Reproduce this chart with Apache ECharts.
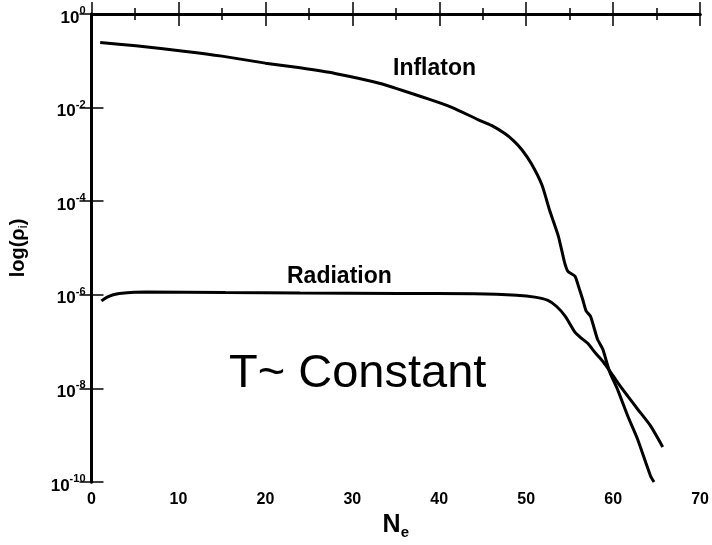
<!DOCTYPE html>
<html>
<head>
<meta charset="utf-8">
<script src="https://cdn.jsdelivr.net/npm/echarts@6/dist/echarts.min.js"></script>
<style>html,body{margin:0;padding:0;background:#fff}#c{width:712px;height:545px}</style>
</head>
<body>
<div id="c"></div>
<script>
// N_e values and log10(rho) exponents
const inflatonN = [1.0, 5.1, 10.85, 15, 20, 24, 28, 33.1, 38.8, 41.5, 44.5, 46.0, 47.5, 48.5, 49.5, 50.6, 51.8, 52.7, 53.7, 54.4, 54.8, 55.6, 56.0, 56.5, 56.9, 57.4, 58.2, 58.8, 59.6, 60.5, 61.7, 62.8, 64.3, 64.7];
const inflatonLog = [-0.61, -0.68, -0.80, -0.90, -1.05, -1.15, -1.27, -1.48, -1.82, -2.0, -2.26, -2.38, -2.55, -2.7, -2.9, -3.2, -3.65, -4.2, -4.75, -5.3, -5.5, -5.6, -5.81, -6.1, -6.35, -6.46, -6.95, -7.16, -7.65, -8.02, -8.6, -9.08, -9.87, -10.0];
const radiationN = [1.14, 1.7, 2.5, 3.2, 6.3, 15.4, 24, 35.4, 44, 48.9, 51, 52.5, 53.5, 54.5, 55.6, 56.3, 57.1, 57.9, 58.8, 59.7, 60.5, 61.7, 62.8, 64.3, 65.7];
const radiationLog = [-6.13, -6.06, -6.0, -5.97, -5.94, -5.95, -5.96, -5.97, -5.98, -6.01, -6.05, -6.12, -6.25, -6.46, -6.8, -6.92, -7.04, -7.23, -7.42, -7.65, -7.87, -8.17, -8.44, -8.8, -9.25];
const xTicks = [0, 10, 20, 30, 40, 50, 60, 70];
const yTickExps = [-10, -8, -6, -4, -2, 0];
const labels = {inflaton: 'Inflaton', radiation: 'Radiation', note: 'T~ Constant'};

const FONT = '"Liberation Sans", Arial, Helvetica, sans-serif';
const zip = (a, b) => a.map((v, i) => [v, b[i]]);

const chart = echarts.init(document.getElementById('c'), null, {renderer: 'canvas'});
const axisCommonX = {
  type: 'value', min: xTicks[0], max: xTicks[xTicks.length - 1], interval: 10,
  axisLine: {show: true, lineStyle: {color: '#000', width: 3}},
  axisTick: {show: true, inside: true, length: 12, lineStyle: {color: '#000', width: 1.5}},
  minorTick: {show: true, splitNumber: 2, length: 6, lineStyle: {color: '#000', width: 1.5}},
  splitLine: {show: false}
};
const axisCommonY = {
  type: 'value', min: yTickExps[0], max: yTickExps[yTickExps.length - 1], interval: 2,
  axisLine: {show: true, lineStyle: {color: '#000', width: 3}},
  axisTick: {show: true, inside: true, length: 12, lineStyle: {color: '#000', width: 1.5}},
  splitLine: {show: false}
};
chart.setOption({
  animation: false,
  backgroundColor: '#fff',
  grid: {left: 90, right: 9, top: 14, bottom: 62, containLabel: false},
  xAxis: [
    Object.assign({}, axisCommonX, {
      position: 'bottom',
      name: '{n|N}{s|e}', nameLocation: 'middle', nameGap: 29,
      nameTextStyle: {rich: {
        n: {fontFamily: FONT, fontWeight: 'bold', fontSize: 25, color: '#000'},
        s: {fontFamily: FONT, fontWeight: 'bold', fontSize: 15, color: '#000', padding: [14, 0, 0, 0]}
      }},
      axisLabel: {show: true, margin: 10, color: '#000', fontFamily: FONT, fontWeight: 'bold', fontSize: 16}
    }),
    Object.assign({}, axisCommonX, {position: 'top', axisLabel: {show: false}})
  ],
  yAxis: [
    Object.assign({}, axisCommonY, {
      position: 'left',
      name: '{a|log(ρ}{s|i}{a|)}', nameLocation: 'middle', nameGap: 62, nameRotate: 90,
      nameTextStyle: {rich: {
        a: {fontFamily: FONT, fontWeight: 'bold', fontSize: 20, color: '#000'},
        s: {fontFamily: FONT, fontWeight: 'normal', fontSize: 13, color: '#000', padding: [10, 0, 0, 0]}
      }},
      axisLabel: {
        show: true, margin: 6, color: '#000',
        formatter: v => '{b|10}{e|' + v + '}',
        rich: {
          b: {fontFamily: FONT, fontWeight: 'bold', fontSize: 17, color: '#000', padding: [8, 0, 0, 0]},
          e: {fontFamily: FONT, fontWeight: 'bold', fontSize: 11, color: '#000', padding: [0, 0, 6, 0]}
        }
      }
    }),
    Object.assign({}, axisCommonY, {position: 'right', axisLabel: {show: false}})
  ],
  series: [
    {type: 'line', name: labels.inflaton, data: zip(inflatonN, inflatonLog), showSymbol: false, smooth: 0.2,
     lineStyle: {color: '#000', width: 3}, clip: true, z: 3},
    {type: 'line', name: labels.radiation, data: zip(radiationN, radiationLog), showSymbol: false, smooth: 0.2,
     lineStyle: {color: '#000', width: 3}, clip: true, z: 3}
  ],
  graphic: [
    {type: 'text', left: 393, top: 57, style: {text: labels.inflaton, fill: '#000', font: 'bold 23px ' + FONT}},
    {type: 'text', left: 287, top: 265, style: {text: labels.radiation, fill: '#000', font: 'bold 23px ' + FONT}},
    {type: 'text', left: 229, top: 351, style: {text: labels.note, fill: '#000', font: 'normal 47px ' + FONT}}
  ]
});
</script>
</body>
</html>
